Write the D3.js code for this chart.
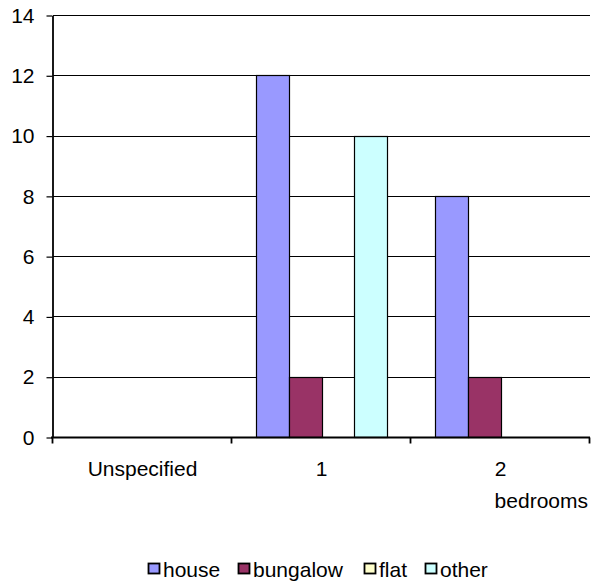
<!DOCTYPE html>
<html>
<head>
<meta charset="utf-8">
<script src="https://cdn.jsdelivr.net/npm/d3@7"></script>
<style>
  body { margin: 0; background: #fff; }
  text { font-family: "Liberation Sans", Arial, sans-serif; fill: #000; }
</style>
</head>
<body>
<script>
'use strict';

// chart values
let categories = ["Unspecified", "1", "2"];
let seriesNames = ["house", "bungalow", "flat", "other"];
let house = [0, 12, 8];
let bungalow = [0, 2, 2];
let flat = [0, 0, 0];
let other = [0, 10, 0];
let yTicks = [0, 2, 4, 6, 8, 10, 12, 14];
let colors = ["#9999FF", "#993366", "#FFFFCC", "#CCFFFF"];

let width = 592;
let height = 582;
let margin = { left: 53, right: 2, top: 15, bottom: 145 };
let fontSize = '21px';

let svg = d3.select('body').append('svg')
  .attr('width', width)
  .attr('height', height);

let xScale = d3.scaleBand()
  .domain(categories)
  .range([margin.left, width - margin.right]);

let inner = d3.scaleBand()
  .domain(seriesNames)
  .range([0, xScale.bandwidth()])
  .paddingOuter(0.75);

let yScale = d3.scaleLinear()
  .domain([0, 14])
  .range([height - margin.bottom, margin.top]);

// gridlines
svg.append('g')
  .selectAll('line')
  .data(yTicks)
  .enter()
  .append('line')
  .attr('x1', margin.left)
  .attr('x2', width - margin.right)
  .attr('y1', d => Math.round(yScale(d)) + 0.5)
  .attr('y2', d => Math.round(yScale(d)) + 0.5)
  .attr('stroke', '#000')
  .attr('stroke-width', 1.2);

// bars
let table = [house, bungalow, flat, other];
let rows = [];
categories.forEach((c, i) => {
  seriesNames.forEach((s, j) => {
    rows.push({ cat: c, series: s, value: table[j][i], color: colors[j] });
  });
});

svg.append('g')
  .selectAll('rect')
  .data(rows.filter(d => d.value > 0))
  .enter()
  .append('rect')
  .attr('x', d => Math.round(xScale(d.cat) + inner(d.series)) + 0.5)
  .attr('y', d => Math.round(yScale(d.value)) + 0.5)
  .attr('width', Math.round(inner.bandwidth()))
  .attr('height', d => Math.round(yScale(0)) - Math.round(yScale(d.value)))
  .attr('fill', d => d.color)
  .attr('stroke', '#000')
  .attr('stroke-width', 1.2);

// y axis
let yAxis = d3.axisLeft(yScale)
  .tickValues(yTicks)
  .tickSize(6)
  .tickSizeOuter(0)
  .tickPadding(12);
let yg = svg.append('g')
  .attr('transform', 'translate(' + (margin.left - 0.5) + ',0.5)')
  .call(yAxis);
yg.select('.domain').attr('stroke', '#000').attr('stroke-width', 1.8);
yg.selectAll('.tick line').attr('stroke', '#000').attr('stroke-width', 1.2);
yg.selectAll('.tick text')
  .style('font-size', fontSize)
  .style('font-family', '"Liberation Sans", Arial, sans-serif');

// x axis
let xBottom = Math.round(yScale(0)) + 0.5;
svg.append('line')
  .attr('x1', margin.left - 2)
  .attr('x2', width - margin.right)
  .attr('y1', xBottom)
  .attr('y2', xBottom)
  .attr('stroke', '#000')
  .attr('stroke-width', 2);

let boundaries = categories.map(c => xScale(c)).concat([width - margin.right]);
svg.append('g')
  .selectAll('line')
  .data(boundaries)
  .enter()
  .append('line')
  .attr('x1', d => Math.round(d) - 0.5)
  .attr('x2', d => Math.round(d) - 0.5)
  .attr('y1', xBottom)
  .attr('y2', xBottom + 6)
  .attr('stroke', '#000')
  .attr('stroke-width', 1.8);

svg.append('g')
  .selectAll('text')
  .data(categories)
  .enter()
  .append('text')
  .attr('x', d => xScale(d) + xScale.bandwidth() / 2)
  .attr('y', 476)
  .attr('text-anchor', 'middle')
  .style('font-size', fontSize)
  .text(d => d);

svg.append('text')
  .attr('x', 588)
  .attr('y', 508)
  .attr('text-anchor', 'end')
  .style('font-size', fontSize)
  .text('bedrooms');

// legend
let legendX = [148, 238, 364, 425];
let legend = svg.append('g')
  .selectAll('g')
  .data(seriesNames)
  .enter()
  .append('g')
  .attr('transform', (d, i) => 'translate(' + legendX[i] + ',563)');
legend.append('rect')
  .attr('x', 0.5)
  .attr('y', 0.5)
  .attr('width', 11)
  .attr('height', 10)
  .attr('fill', (d, i) => colors[i])
  .attr('stroke', '#000')
  .attr('stroke-width', 1.8);
legend.append('text')
  .attr('x', 15)
  .attr('y', 14)
  .style('font-size', fontSize)
  .text(d => d);
</script>
</body>
</html>
